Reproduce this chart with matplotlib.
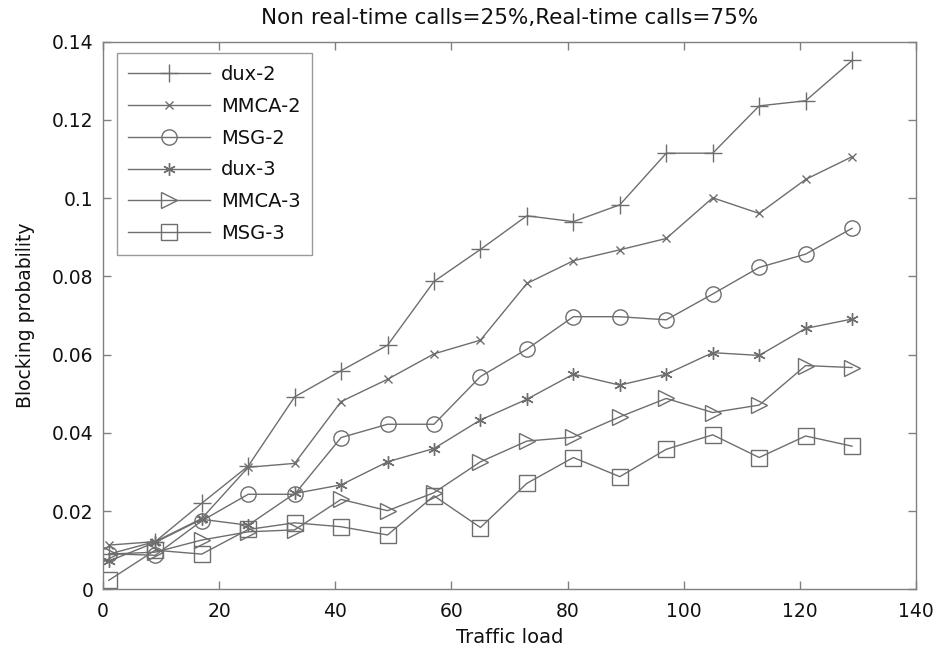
import matplotlib
matplotlib.use("Agg")
import matplotlib.pyplot as plt

plt.rcParams['font.family'] = ['DejaVu Sans']

traffic_load = [1, 9, 17, 25, 33, 41, 49, 57, 65, 73, 81, 89, 97, 105, 113, 121, 129]

dux_2 = [0.0090, 0.0122, 0.0220, 0.0315, 0.0492, 0.0559, 0.0624, 0.0787, 0.0869,
         0.0955, 0.0940, 0.0983, 0.1115, 0.1115, 0.1236, 0.1249, 0.1352]
mmca_2 = [0.0113, 0.0122, 0.0181, 0.0312, 0.0322, 0.0480, 0.0537, 0.0602, 0.0637,
          0.0782, 0.0840, 0.0868, 0.0897, 0.1001, 0.0961, 0.1048, 0.1106]
msg_2 = [0.0091, 0.0087, 0.0175, 0.0243, 0.0243, 0.0388, 0.0422, 0.0422, 0.0544,
         0.0614, 0.0697, 0.0697, 0.0689, 0.0755, 0.0823, 0.0857, 0.0923]
dux_3 = [0.0072, 0.0120, 0.0179, 0.0164, 0.0245, 0.0267, 0.0326, 0.0360, 0.0433,
         0.0486, 0.0550, 0.0522, 0.0550, 0.0605, 0.0598, 0.0667, 0.0691]
mmca_3 = [0.0090, 0.0095, 0.0126, 0.0147, 0.0152, 0.0230, 0.0201, 0.0247, 0.0326,
          0.0379, 0.0389, 0.0441, 0.0488, 0.0452, 0.0471, 0.0572, 0.0567]
msg_3 = [0.0023, 0.0100, 0.0090, 0.0153, 0.0170, 0.0160, 0.0139, 0.0239, 0.0158,
         0.0271, 0.0337, 0.0288, 0.0358, 0.0395, 0.0337, 0.0392, 0.0366]

series = [
    ("dux-2", dux_2, '+', 13),
    ("MMCA-2", mmca_2, 'x', 6),
    ("MSG-2", msg_2, 'o', 11),
    ("dux-3", dux_3, (6, 2, 0), 9),
    ("MMCA-3", mmca_3, '>', 12),
    ("MSG-3", msg_3, 's', 11),
]

line_color = '#6e6e6e'
text_color = '#111111'

fig = plt.figure(figsize=(9.38, 6.54), dpi=100)
ax = fig.add_axes([0.1098, 0.0989, 0.8667, 0.8373])

for name, vals, mk, ms in series:
    ax.plot(traffic_load, vals, color=line_color, linewidth=1.0, marker=mk,
            markersize=ms, markerfacecolor='none', markeredgecolor=line_color,
            markeredgewidth=1.0, label=name)

ax.set_xlim(0, 140)
ax.set_ylim(0, 0.14)
ax.set_xticks(range(0, 141, 20))
ax.set_yticks([0, 0.02, 0.04, 0.06, 0.08, 0.1, 0.12, 0.14])
ax.set_yticklabels(['0', '0.02', '0.04', '0.06', '0.08', '0.1', '0.12', '0.14'])
ax.tick_params(direction='in', length=6, width=1, top=True, right=True,
               labelsize=13.5, colors='#808080', labelcolor=text_color)
ax.tick_params(axis='x', pad=9)
ax.tick_params(axis='y', pad=7)
for sp in ax.spines.values():
    sp.set_color('#808080')
    sp.set_linewidth(1.0)

ax.set_xlabel("Traffic load", fontsize=14, color=text_color, labelpad=5)
ax.set_ylabel("Blocking probability", fontsize=13.5, color=text_color, labelpad=12)
ax.set_title("Non real-time calls=25%,Real-time calls=75%", fontsize=15.5,
             color=text_color, pad=13)

leg = ax.legend(loc='upper left', bbox_to_anchor=(0.017, 0.979), fontsize=14,
                frameon=True, fancybox=False, handlelength=4.2, labelspacing=0.66,
                borderpad=0.6, handletextpad=0.55, borderaxespad=0)
leg.get_frame().set_edgecolor('#808080')
leg.get_frame().set_linewidth(1.0)
for t in leg.get_texts():
    t.set_color(text_color)

fig.savefig("out.png", dpi=100)
